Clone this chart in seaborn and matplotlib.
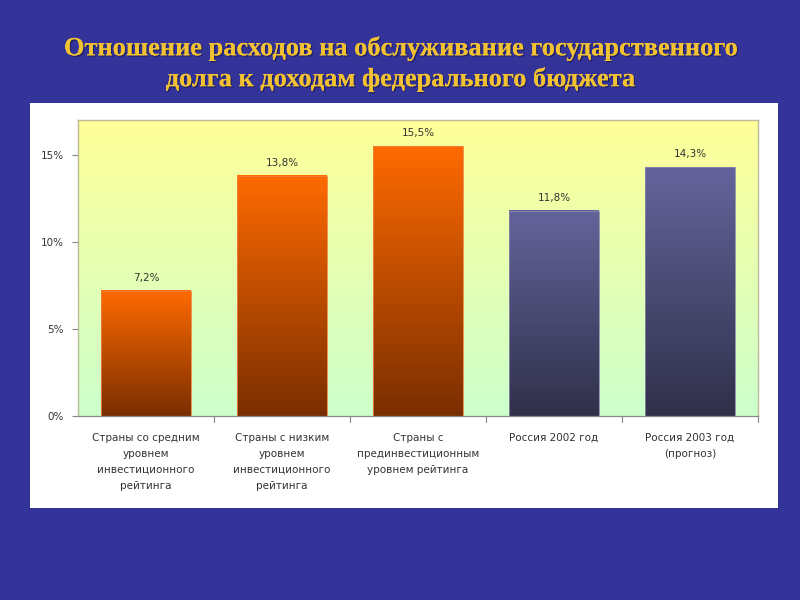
import matplotlib
matplotlib.use("Agg")
import matplotlib.pyplot as plt
import matplotlib.patches as mpatches
import matplotlib.patheffects as pe
from matplotlib.colors import LinearSegmentedColormap
import numpy as np
import pandas as pd
import seaborn as sns

categories = [
    "Страны со средним\nуровнем\nинвестиционного\nрейтинга",
    "Страны с низким\nуровнем\nинвестиционного\nрейтинга",
    "Страны с\nпрединвестиционным\nуровнем рейтинга",
    "Россия 2002 год",
    "Россия 2003 год\n(прогноз)",
]
values = [7.2, 13.8, 15.5, 11.8, 14.3]
value_labels = ["7,2%", "13,8%", "15,5%", "11,8%", "14,3%"]
groups = ["world", "world", "world", "russia", "russia"]
yticks = [0, 5, 10, 15]
ytick_labels = ["0%", "5%", "10%", "15%"]
title = "Отношение расходов на обслуживание государственного\nдолга к доходам федерального бюджета"

df = pd.DataFrame({"cat": categories, "val": values, "grp": groups})

sns.set_theme(style="white")
plt.rcParams['font.family'] = ['DejaVu Sans']

fig = plt.figure(figsize=(8, 6), dpi=100, facecolor="#333399")
# white panel
fig.patches.append(mpatches.Rectangle((30/800, 1-508/600), 748/800, 405/600,
                                      transform=fig.transFigure, facecolor="white",
                                      edgecolor="none", zorder=-5))
fig.text(0.5, 1-64/600, title, ha="center", va="center", fontsize=19,
         fontweight="bold", family="Liberation Serif", color="#F2C232",
         linespacing=1.4,
         path_effects=[pe.withSimplePatchShadow(offset=(1, -1), shadow_rgbFace="#111133", alpha=0.5),
                       pe.Normal()])

ax = fig.add_axes([78/800, 1-416/600, 680/800, 296/600])
ax.set_facecolor("none")
sns.barplot(data=df, x="cat", y="val", ax=ax, width=0.655, color="#FF6600",
            saturation=1, zorder=2)
ax.set_ylim(0, 17)
ax.set_xlim(-0.5, 4.5)

# gradient background
bg = LinearSegmentedColormap.from_list("bg", ["#CCFFCC", "#FFFF99"])
grad = np.linspace(0, 1, 256).reshape(-1, 1)
ax.imshow(grad, aspect="auto", cmap=bg, origin="lower",
          extent=[-0.5, 4.5, 0, 17], zorder=0)

orange = LinearSegmentedColormap.from_list("or", ["#7A2E00", "#FF6A00"])
purple = LinearSegmentedColormap.from_list("pu", ["#30304A", "#64649C"])
edge = {"world": "#F08040", "russia": "#8888AA"}
for patch, g in zip(ax.patches, groups):
    x0, y0 = patch.get_x(), patch.get_y()
    w, h = patch.get_width(), patch.get_height()
    patch.set_facecolor("none")
    patch.set_edgecolor(edge[g])
    patch.set_linewidth(0.6)
    patch.set_zorder(3)
    cm = orange if g == "world" else purple
    ax.imshow(grad, aspect="auto", cmap=cm, origin="lower",
              extent=[x0, x0 + w, y0, y0 + h], zorder=2)

for i, (v, lab) in enumerate(zip(values, value_labels)):
    ax.text(i, v + 0.45, lab, ha="center", va="bottom", fontsize=7.5, color="#333333")

ax.set_yticks(yticks)
ax.set_yticklabels(ytick_labels, fontsize=7.5, color="#333333")
ax.set_xticks(range(len(categories)))
ax.set_xticklabels(categories, fontsize=7.5, color="#333333", linespacing=1.75)
ax.tick_params(axis="x", length=0, pad=12)
ax.tick_params(axis="y", length=4, width=0.8, color="#888888", left=True, pad=6)
for b in [0.5, 1.5, 2.5, 3.5, 4.5]:
    ax.plot([b, b], [0, -0.35], color="#888888", lw=0.8, clip_on=False, zorder=3)
ax.set_xlabel("")
ax.set_ylabel("")
for s in ["left", "right", "top"]:
    ax.spines[s].set_visible(True)
    ax.spines[s].set_color("#BBBB99")
    ax.spines[s].set_linewidth(1)
ax.spines["bottom"].set_color("#888888")
ax.spines["bottom"].set_linewidth(0.9)

fig.savefig("out.png", dpi=100, facecolor=fig.get_facecolor())
